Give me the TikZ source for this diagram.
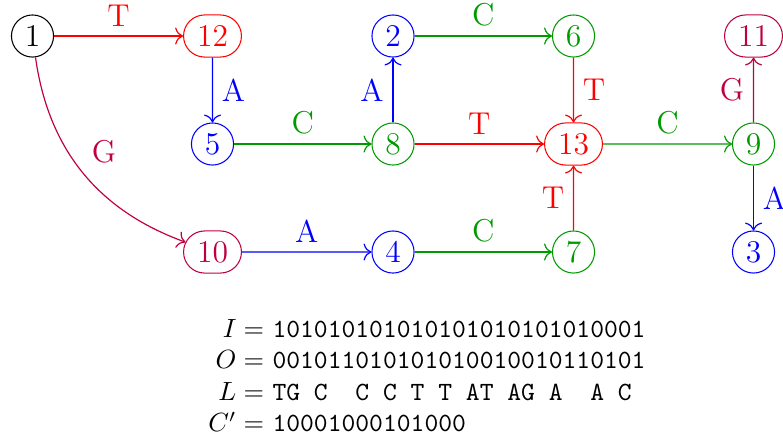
\documentclass[tikz,border=0pt]{standalone}
\usetikzlibrary{shapes.misc,arrows.meta}
\definecolor{cgreen}{rgb}{0,0.6,0}
\definecolor{cpurple}{rgb}{0.75,0,0.25}
\begin{document}
\begin{tikzpicture}[x=0.38pt,y=-0.38pt,
  circ/.style={circle,draw,minimum size=16pt,inner sep=0pt,font=\large},
  rnd/.style={rounded rectangle,draw,minimum width=22pt,minimum height=16pt,inner sep=0pt,font=\large},
  lab/.style={font=\large},
  ed/.style={-{To[length=3pt,width=6.5pt]},line width=0.45pt},
  ]
\useasboundingbox (0,0) rectangle (783,440);
% nodes
\node[circ] (n1) at (32.5,36) {1};
\node[rnd,red] (n12) at (212.5,36) {12};
\node[circ,blue] (n2) at (393,36) {2};
\node[circ,cgreen] (n6) at (573.5,36) {6};
\node[rnd,cpurple] (n11) at (753.5,36) {11};
\node[circ,blue] (n5) at (212.5,144) {5};
\node[circ,cgreen] (n8) at (393,144) {8};
\node[rnd,red] (n13) at (573.5,144) {13};
\node[circ,cgreen] (n9) at (753.5,144) {9};
\node[rnd,cpurple] (n10) at (212.5,252) {10};
\node[circ,blue] (n4) at (393,252) {4};
\node[circ,cgreen] (n7) at (573.5,252) {7};
\node[circ,blue] (n3) at (753.5,252) {3};
% edges
\draw[ed,red] (n1) -- node[lab,above] {T} (n12);
\draw[ed,cpurple] (n1) to[out=-82,in=160] node[lab,pos=0.5,above right] {G} (n10);
\draw[ed,blue] (n12) -- node[lab,right] {A} (n5);
\draw[ed,cgreen] (n5) -- node[lab,above] {C} (n8);
\draw[ed,blue] (n8) -- node[lab,left] {A} (n2);
\draw[ed,cgreen] (n2) -- node[lab,above] {C} (n6);
\draw[ed,red] (n8) -- node[lab,above] {T} (n13);
\draw[ed,red] (n6) -- node[lab,right] {T} (n13);
\draw[ed,cgreen] (n13) -- node[lab,above] {C} (n9);
\draw[ed,cpurple] (n9) -- node[lab,left] {G} (n11);
\draw[ed,blue] (n9) -- node[lab,right] {A} (n3);
\draw[ed,red] (n7) -- node[lab,left] {T} (n13);
\draw[ed,blue] (n10) -- node[lab,above] {A} (n4);
\draw[ed,cgreen] (n4) -- node[lab,above] {C} (n7);
% bit vectors
\node[anchor=base east,inner sep=0pt] (eqs) at (272,337) {\begin{tabular}[t]{@{}r@{}}$I = {}$\\$O = {}$\\$L = {}$\\$C' = {}$\end{tabular}};
\node[anchor=base west,inner sep=0pt] (vals) at (272,337) {\begin{tabular}[t]{@{}l@{}}\texttt{101010101010101010101010001}\\\texttt{001011010101010010010110101}\\\texttt{TG~C~~C~C~T~T~AT~AG~A~~A~C}\\\texttt{10001000101000}\end{tabular}};
\end{tikzpicture}
\end{document}
